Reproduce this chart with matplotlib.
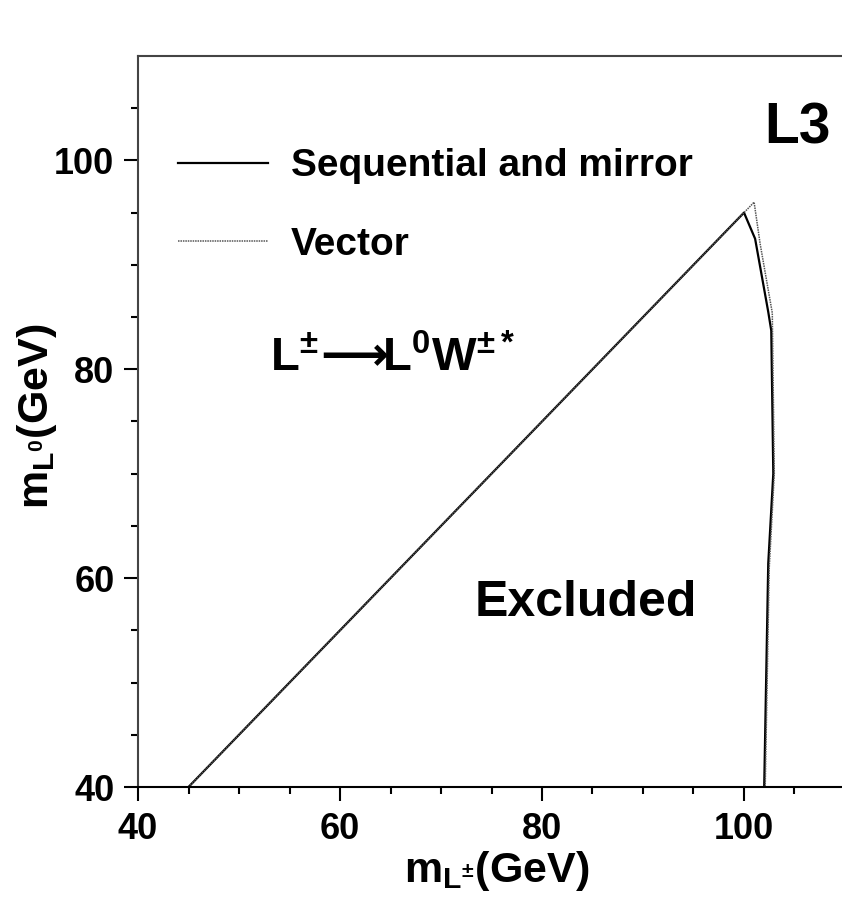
import numpy as np
import matplotlib.pyplot as plt

plt.rcParams['font.family'] = ['Liberation Sans', 'DejaVu Sans']
plt.rcParams['font.weight'] = 'bold'
plt.rcParams['mathtext.fontset'] = 'custom'
plt.rcParams['mathtext.rm'] = 'Liberation Sans:bold'
plt.rcParams['mathtext.it'] = 'Liberation Sans:bold'
plt.rcParams['mathtext.bf'] = 'Liberation Sans:bold'
plt.rcParams['mathtext.sf'] = 'DejaVu Sans'

# --- exclusion contours (m_L+- , m_L0) in GeV ---
seq_x = [45.0, 100.0, 101.1, 102.4, 102.7, 102.9, 102.4, 102.0]
seq_y = [40.0, 95.0, 92.5, 85.5, 83.7, 70.0, 61.4, 40.0]

vec_x = [45.0, 101.0, 101.6, 102.8, 103.0, 102.5, 102.1]
vec_y = [40.0, 96.0, 92.0, 85.4, 70.0, 61.0, 40.0]

fig = plt.figure(figsize=(8.42, 8.97), dpi=100)
ax = fig.add_axes([138 / 842, 1 - 787 / 897, 707 / 842, 731 / 897])

ax.plot(seq_x, seq_y, color='black', lw=1.6, label='Sequential and mirror')
ax.plot(vec_x, vec_y, color='#555555', lw=1.1, ls=(0, (1, 0.6)), label='Vector')

ax.set_xlim(40, 110)
ax.set_ylim(40, 110)
ax.set_xticks([40, 60, 80, 100])
ax.set_yticks([40, 60, 80, 100])
ax.set_xticks(np.arange(45, 110, 5), minor=True)
ax.set_yticks(np.arange(45, 110, 5), minor=True)
ax.tick_params(which='both', direction='out', width=1.5, labelsize=26, top=False, right=False)
ax.tick_params(which='major', length=10)
ax.tick_params(axis='x', which='major', pad=8)
ax.tick_params(axis='y', which='major', pad=7)
ax.tick_params(which='minor', length=5)
for lab in ax.get_xticklabels() + ax.get_yticklabels():
    lab.set_fontweight('bold')
for side in ['left', 'bottom', 'top']:
    ax.spines[side].set_linewidth(1.5)
ax.spines['top'].set_color('#444444')
ax.spines['left'].set_color('#444444')
ax.spines['right'].set_visible(False)

ax.set_xlabel(r'$\mathrm{m}_{\mathrm{L}^{\pm}}$(GeV)', fontsize=31, fontweight='bold')
ax.set_ylabel(r'$\mathrm{m}_{\mathrm{L}^{0}}$(GeV)', fontsize=31, fontweight='bold')
ax.xaxis.set_label_coords(0.508, -0.130)
ax.xaxis.label.set_va('baseline')
ax.yaxis.set_label_coords(-0.143, 0.5075)
ax.yaxis.label.set_va('center')

ax.legend(loc='upper left', bbox_to_anchor=(0.035, 0.895), frameon=False, fontsize=28,
          handlelength=2.3, handletextpad=0.6, labelspacing=1.1, borderaxespad=0.0)

ax.text(0.979, 0.901, 'L3', transform=ax.transAxes, ha='right', va='center',
        fontsize=41, fontweight='bold')
ax.text(65.2, 81.0,
        r'$\mathrm{L}^{\pm}\!\mathsf{\longrightarrow}\!\!\mathrm{L}^{0}\mathrm{W}^{\pm *}$',
        ha='center', va='center', fontsize=34)
ax.text(84.3, 57.6, 'Excluded', ha='center', va='center', fontsize=36, fontweight='bold')

fig.savefig('out.png', dpi=100)
